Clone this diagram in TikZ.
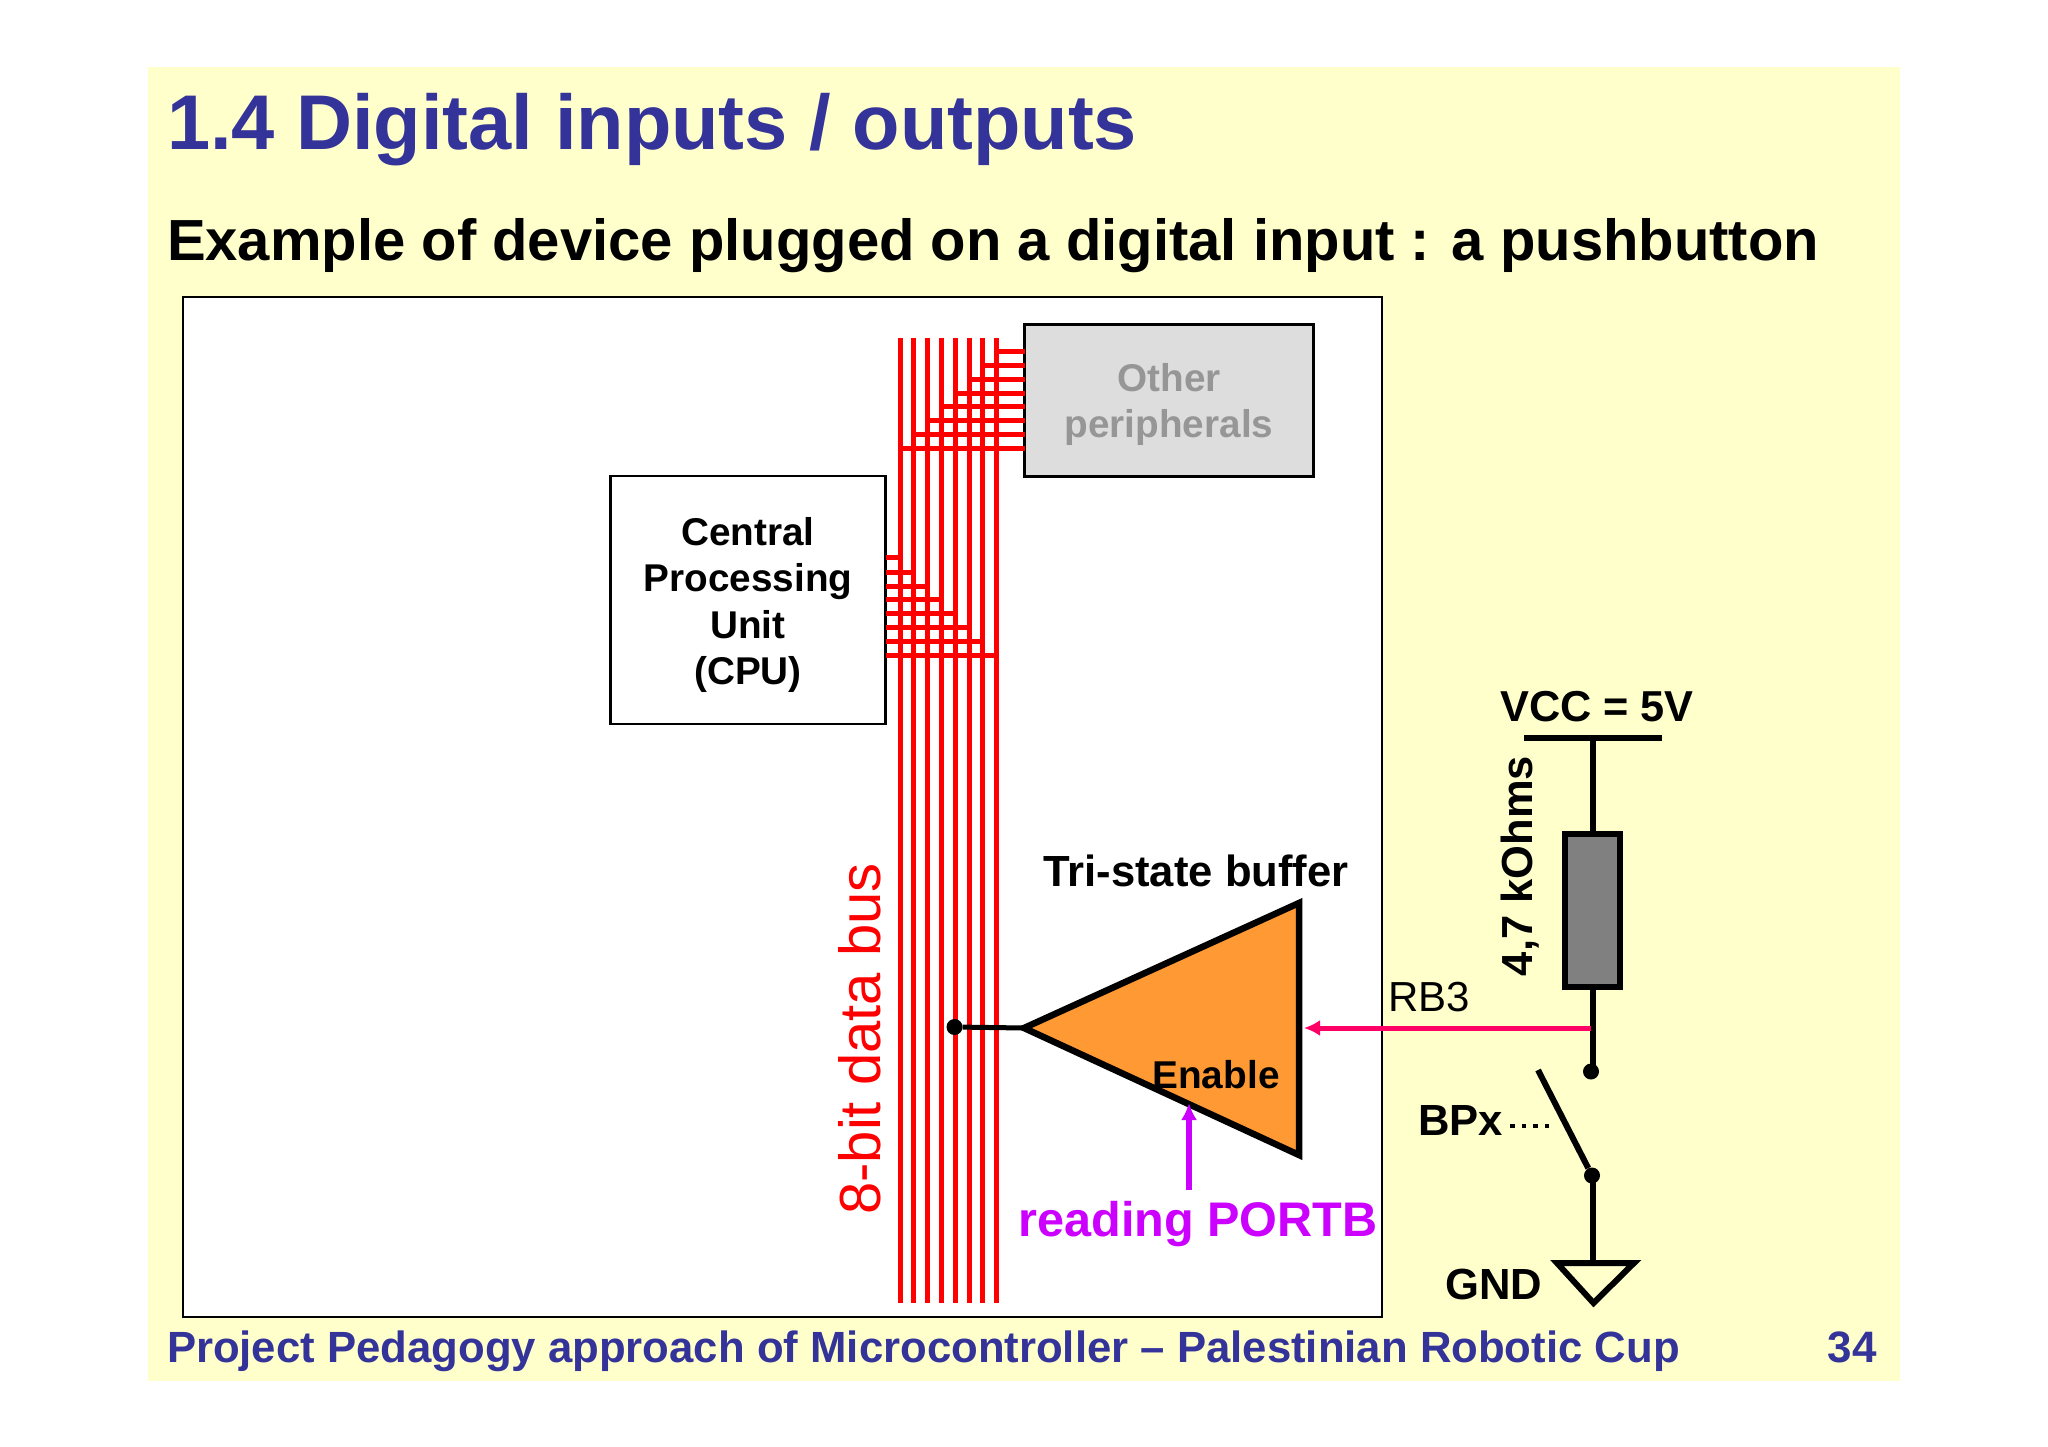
\documentclass[tikz,border=0pt]{standalone}
\usepackage{fontspec}
\setmainfont{Liberation Sans}
\usetikzlibrary{arrows.meta,calc}
\definecolor{slidebg}{HTML}{FFFFCC}
\definecolor{titleblue}{HTML}{333399}
\definecolor{busred}{HTML}{FF0000}
\definecolor{periphfill}{HTML}{DDDDDD}
\definecolor{periphtext}{HTML}{969696}
\definecolor{buforange}{HTML}{FF9933}
\definecolor{pinkline}{HTML}{FF0066}
\definecolor{readpurple}{HTML}{CC00FF}
\definecolor{resgrey}{HTML}{808080}
\newcommand{\fsz}[1]{\fontsize{#1}{#1}\selectfont}
\tikzset{
  lbl/.style={inner sep=0pt,outer sep=0pt,anchor=base,font=\bfseries\fsz{43.6}},
  busline/.style={draw=busred,line width=5pt},
  wire/.style={draw=black,line width=6pt},
  blockbox/.style={draw=black,inner sep=0pt,outer sep=0pt},
  blocktext/.style={inner sep=0pt,outer sep=0pt,align=center,font=\bfseries\fontsize{38.7}{46.5}\selectfont},
  junction/.style={circle,fill=black,inner sep=0pt,minimum size=16pt},
}
\begin{document}
\begin{tikzpicture}[x=1pt,y=-1pt]
\useasboundingbox (0,0) rectangle (2048,1447);
\fill[white] (0,0) rectangle (2048,1447);
\fill[slidebg] (148,67) rectangle (1900,1381);
\node[draw=black,line width=2.5pt,fill=white,inner sep=0pt,minimum width=1199pt,minimum height=1020pt] (panel) at (782.5,807) {};

% titles
\node[lbl,anchor=base west,text=titleblue,font=\bfseries\fsz{77.6}] (title) at (167,150) {1.4 Digital inputs / outputs};
\node[lbl,anchor=base west,font=\bfseries\fsz{58}] (subtitle) at (167,261) {Example of device plugged on a digital input : a pushbutton};
\node[lbl,anchor=base west,text=titleblue,font=\bfseries\fsz{43.7}] (footer) at (167,1362) {Project Pedagogy approach of Microcontroller – Palestinian Robotic Cup};
\node[lbl,text=titleblue,font=\bfseries\fsz{44}] (pagenum) at (1852,1362) {34};

% blocks
\node[blockbox,line width=2.5pt,fill=white,minimum width=275pt,minimum height=248pt] (cpu) at (748,600) {};
\node[blockbox,line width=3pt,fill=periphfill,minimum width=289pt,minimum height=151pt] (periph) at (1169,400.5) {};
\node[blocktext,yshift=-5pt] (cputext) at (cpu.center) {Central\\Processing\\Unit\\(CPU)};
\node[blocktext,text=periphtext,yshift=-4pt] (periphtext) at (periph.center) {Other\\peripherals};

% bus
\foreach \i/\xx/\yp/\yc in {1/900/448/557,2/913.5/434/572,3/927/420/586,4/941/406/599,5/955/393/613,6/969/379/627,7/982.5/365/641,8/996/351/655}{
  \coordinate (bt\i) at (\xx,338);
  \coordinate (bb\i) at (\xx,1303);
  \coordinate (bp\i) at (\xx,\yp);
  \coordinate (bc\i) at (\xx,\yc);
  \draw[busline] (bt\i) -- (bb\i);
  \draw[busline] (bp\i) -- (periph.west |- bp\i);
  \draw[busline] (bc\i) -- (cpu.east |- bc\i);
}
\node[lbl,rotate=90,text=busred,font=\fsz{58}] (buslabel) at (880,1039) {8-bit data bus};

% tri-state buffer
\coordinate (apex) at (1024,1028);
\coordinate (tritop) at (1299,903);
\coordinate (tribot) at (1299,1155);
\draw[line width=6.5pt,fill=buforange,miter limit=10] (apex) -- (tritop) -- (tribot) -- cycle;
\node[junction] (busdot) at (954.5,1027) {};
\draw[line width=5pt] (busdot) -- (apex);
\node[lbl] (tri) at (1196,886) {Tri-state buffer};
\node[lbl,font=\bfseries\fsz{38.8}] (enable) at (1216,1088) {Enable};
\node[lbl,text=readpurple,font=\bfseries\fsz{48.6}] (reading) at (1198,1236) {reading PORTB};
\coordinate (entip) at (1189,1103);
\coordinate (enbase) at (1189,1190);
\draw[draw=readpurple,line width=5.5pt,-{Latex[length=17pt,width=16pt]}] (enbase) -- (entip);

% external circuit
\coordinate (vccl) at (1524,738);
\coordinate (vccr) at (1662,738);
\coordinate (vccm) at (1593,738);
\draw[wire] (vccl) -- (vccr);
\node[lbl,font=\bfseries\fsz{43.3}] (vcc) at (1597,721) {VCC = 5V};
\node[draw=black,line width=6pt,fill=resgrey,inner sep=0pt,minimum width=55pt,minimum height=153pt] (res) at (1592.5,910.5) {};
\node[lbl,rotate=90,font=\bfseries\fsz{43.5}] (reslabel) at (1532,866) {4,7 kOhms};
\draw[wire] (vccm) -- (vccm |- res.north);
\node[junction] (topdot) at (1591,1071.5) {};
\draw[wire] (vccm |- res.south) -- (vccm |- topdot);
\coordinate (rbwire) at (1591,1028);
\coordinate (bufin) at (1304,1028);
\draw[draw=pinkline,line width=5pt,-{Latex[length=16pt,width=16pt]}] (rbwire) -- (bufin);
\node[lbl,font=\fsz{42}] (rb3) at (1429,1011) {RB3};
\node[junction] (botdot) at (1592,1175.5) {};
\coordinate (swend) at (1538,1070);
\draw[wire] (swend) -- (botdot);
\coordinate (gndtop) at (1593,1262);
\draw[wire] (vccm |- botdot) -- (gndtop);
\coordinate (gl) at (1557,1263);
\coordinate (gr) at (1634,1263);
\coordinate (ga) at (1593.5,1303);
\draw[wire] (gl) -- (gr) -- (ga) -- cycle;
\node[lbl] (bpx) at (1460.5,1135) {BPx};
\coordinate (dotsa) at (1510,1126);
\coordinate (dotsb) at (1552,1126);
\draw[line width=4.5pt,dash pattern=on 4.5pt off 7pt] (dotsa) -- (dotsb);
\node[lbl] (gnd) at (1494,1299) {GND};
\end{tikzpicture}
\end{document}
